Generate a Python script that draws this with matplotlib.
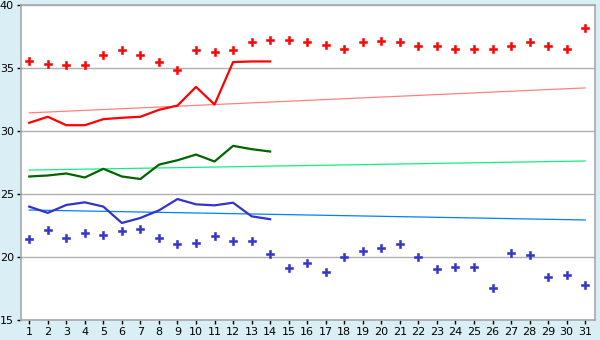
import numpy as np
import matplotlib.pyplot as plt

days = list(range(1, 32))

high_days = list(range(1, 15))
high_line = [30.65, 31.13, 30.46, 30.46, 30.94, 31.05, 31.13, 31.68, 32.02,
             33.5, 32.1, 35.47, 35.52, 35.52]
mean_line = [26.39, 26.47, 26.63, 26.31, 27.0, 26.39, 26.19, 27.33, 27.68,
             28.13, 27.58, 28.82, 28.56, 28.37]
low_line = [24.0, 23.5, 24.13, 24.34, 24.0, 22.7, 23.1, 23.7, 24.6,
            24.18, 24.1, 24.31, 23.23, 23.0]

high_record = [35.55, 35.32, 35.24, 35.24, 36.03, 36.42, 36.03, 35.47, 34.84,
               36.42, 36.26, 36.42, 37.05, 37.21, 37.21, 37.05, 36.82, 36.5,
               37.05, 37.13, 37.05, 36.74, 36.74, 36.5, 36.5, 36.5, 36.74,
               37.05, 36.74, 36.5, 38.16]
low_record = [21.44, 22.15, 21.52, 21.92, 21.76, 22.08, 22.23, 21.52, 21.05,
              21.13, 21.68, 21.28, 21.28, 20.26, 19.15, 19.55, 18.83, 20.0,
              20.49, 20.73, 21.05, 20.0, 19.07, 19.23, 19.23, 17.57, 20.34,
              20.18, 18.44, 18.6, 17.81]

# normals: start / end of month
normal_days = [1, 31]
high_normal = [31.44, 33.42]
mean_normal = [26.9, 27.62]
low_normal = [23.73, 22.94]

fig = plt.figure(figsize=(6, 3.4), dpi=100, facecolor="#d9eef5")
ax = fig.add_axes([0.0345, 0.0588, 0.9575, 0.9265])
ax.set_facecolor("white")

ax.plot(normal_days, high_normal, color="#ff8080", lw=0.9)
ax.plot(normal_days, mean_normal, color="#10f080", lw=0.9)
ax.plot(normal_days, low_normal, color="#0080ff", lw=0.9)

ax.plot(high_days, high_line, color="#ff0000", lw=1.6)
ax.plot(high_days, mean_line, color="#006400", lw=1.6)
ax.plot(high_days, low_line, color="#3333cc", lw=1.6)

ax.plot(days, high_record, ls="none", marker="P", ms=5.3, color="#ff0000", mew=0.4)
ax.plot(days, low_record, ls="none", marker="P", ms=5.3, color="#3333cc", mew=0.4)

ax.set_xlim(0.54, 31.54)
ax.set_ylim(15, 40)
ax.set_xticks(days)
ax.set_yticks([15, 20, 25, 30, 35, 40])
ax.yaxis.grid(True, color="#b0b0b0", lw=1)
ax.set_axisbelow(True)
ax.tick_params(labelsize=8, length=3, width=1, color="black", pad=2)
for s in ax.spines.values():
    s.set_color("#a8a8a8")
    s.set_linewidth(1.2)

fig.savefig("out.png", dpi=100, facecolor=fig.get_facecolor())
